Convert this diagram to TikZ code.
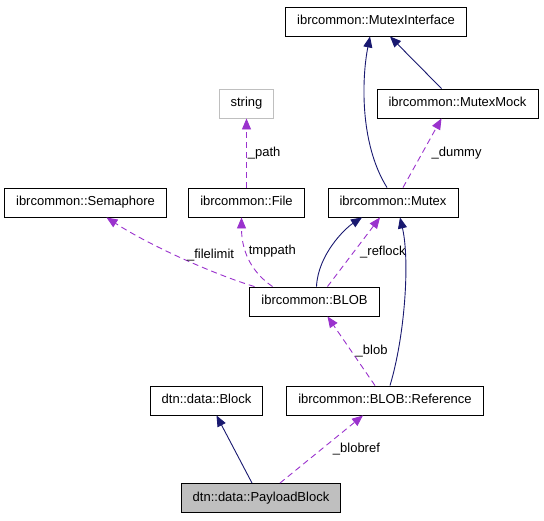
\documentclass[tikz,border=0pt]{standalone}
\usepackage{fontspec}
\setmainfont{Liberation Sans}
\usepackage{tikz}
\usetikzlibrary{positioning, arrows.meta}

\definecolor{inheritcolor}{HTML}{191970}
\definecolor{usecolor}{HTML}{9A32CD}
\definecolor{extgray}{HTML}{BFBFBF}

\begin{document}
\begin{tikzpicture}[x=1pt,y=1pt,node distance=99pt,font=\fontsize{13}{15}\selectfont]
    \tikzstyle{classbox} = [rectangle, 
inner xsep=11.5pt, 
minimum height=29pt, 
text height=9.4pt, 
text depth=2.7pt,
fill=white,
line width=0.9pt,
draw=black]

\tikzstyle{extclass} = [classbox, draw=extgray]

\tikzstyle{currentclass} = [classbox, fill=extgray]

\tikzstyle{inheritarrow} = [line width=0.9pt, draw=inheritcolor, 
-{Triangle[length=11pt,width=9pt,fill=inheritcolor]}]
\tikzstyle{usearrow} = [line width=0.9pt, draw=usecolor, 
dash pattern=on 6pt off 4pt,
-{Triangle[length=11pt,width=9pt,fill=usecolor]}]
\tikzstyle{edgelabel} = [inner sep=1pt]


\node (blob) [classbox] {ibrcommon::BLOB};
\node (mutex) [classbox, above of=blob, xshift=78.5pt] {ibrcommon::Mutex};
\node (file) [classbox, above of=blob, xshift=-68pt] {ibrcommon::File};
\node (semaphore) [classbox, above of=blob, xshift=-229pt] {ibrcommon::Semaphore};
\node (mutexif) [classbox, above of=mutex, xshift=-17pt, yshift=82pt] {ibrcommon::MutexInterface};
\node (mutexmock) [classbox, above of=mutex, xshift=64.5pt] {ibrcommon::MutexMock};
\node (string) [extclass, above of=file] {string};
\node (reference) [classbox, below of=blob, xshift=70.5pt] {ibrcommon::BLOB::Reference};
\node (block) [classbox, below of=blob, xshift=-108pt] {dtn::data::Block};
\node (payload) [currentclass, below of=block, xshift=54.5pt, yshift=1.5pt] {dtn::data::PayloadBlock};

% inheritance
\draw [inheritarrow] ([xshift=-6pt]mutex.north) .. controls +(-28,45) and +(-8,-40) .. ([xshift=-6pt]mutexif.south);
\draw [inheritarrow] ([xshift=-16pt]mutexmock.north) -- ([xshift=14pt]mutexif.south);
\draw [inheritarrow] ([xshift=2pt]blob.north) .. controls +(1.5,32) and +(-17,-11) .. ([xshift=-31pt]mutex.south);
\draw [inheritarrow] ([xshift=5pt]reference.north) .. controls +(15,50) and +(10,-43) .. ([xshift=7pt]mutex.south);
\draw [inheritarrow] ([xshift=-9pt]payload.north) -- ([xshift=10pt]block.south);

% members
\draw [usearrow] ([xshift=10pt]mutex.north) -- node[edgelabel, anchor=west, xshift=8pt] {\_dummy} ([xshift=-16pt]mutexmock.south);
\draw [usearrow] (file) -- node[edgelabel, anchor=west] {\_path} (string);
\draw [usearrow] ([xshift=-60pt]blob.north) .. controls +(-40,12) and +(43,-28) .. node[edgelabel, anchor=base west, xshift=4pt] {\_filelimit} ([xshift=21pt]semaphore.south);
\draw [usearrow] ([xshift=-42pt]blob.north) .. controls +(-17.5,12) and +(0,-38) .. node[edgelabel, pos=0.6, anchor=base west] {tmppath} ([xshift=-5pt]file.south);
\draw [usearrow] ([xshift=13pt]blob.north) -- node[edgelabel, anchor=west, xshift=5pt] {\_reflock} ([xshift=-13pt]mutex.south);
\draw [usearrow] ([xshift=-10pt]reference.north) -- node[edgelabel, anchor=west, xshift=3pt] {\_blob} ([xshift=13pt]blob.south);
\draw [usearrow] ([xshift=19pt]payload.north) -- node[edgelabel, anchor=west, xshift=10pt] {\_blobref} ([xshift=-22pt]reference.south);

\useasboundingbox (-314.5,-218.5) rectangle (229.5,301.5);

\end{tikzpicture}
\end{document}
